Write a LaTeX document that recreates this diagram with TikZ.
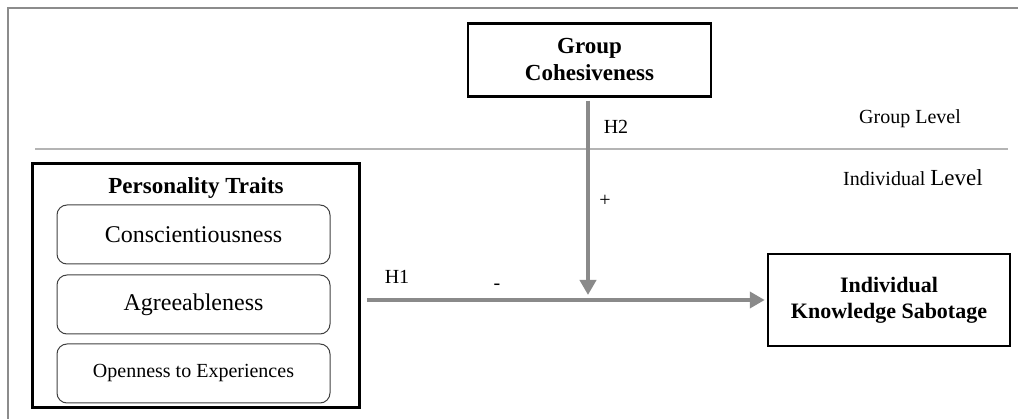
\documentclass[tikz,border=0pt]{standalone}
\usepackage{fontspec}
\setmainfont{Liberation Serif}
\usetikzlibrary{arrows.meta,positioning}

\definecolor{framegray}{HTML}{8C8C8C}
\definecolor{linegray}{HTML}{B4B4B4}
\definecolor{arrowgray}{HTML}{8A8A8A}

\tikzset{
  construct/.style={draw, line width=2.5pt, inner sep=0pt, align=center,
    font=\fontsize{23}{27}\selectfont\bfseries},
  traitbox/.style={draw=black!75, line width=1pt, rounded corners=10pt,
    minimum width=273pt, minimum height=59pt, inner sep=0pt},
  hyparrow/.style={draw=arrowgray, line width=4pt,
    -{Triangle[length=15pt,width=16pt]}},
  plainlabel/.style={inner sep=0pt, font=\fontsize{20}{24}\selectfont}
}

\begin{document}
\begin{tikzpicture}[x=1pt, y=-1pt]
  \useasboundingbox (0,0) rectangle (1018,419);

  % Outer frame and level divider
  \draw[framegray, line width=2pt] (8,419) -- (8,8) -- (1018,8);
  \draw[linegray, line width=1.5pt] (35,149) -- (1008,149);

  % Level labels
  \node[plainlabel] (grouplevel) at (910,119) {Group Level};
  \node[plainlabel] (indlevel) at (913,178) {Individual {\fontsize{23}{27}\selectfont Level}};

  % Constructs
  \node[construct, minimum width=243pt, minimum height=73pt] (cohesion) at (589.5,60) {Group\\Cohesiveness};
  \node[construct, minimum width=242pt, minimum height=92pt,
    font=\fontsize{22}{26}\selectfont\bfseries] (sabotage) at (889,300) {Individual\\Knowledge Sabotage};

  % Personality traits block
  \node[draw, line width=3pt, minimum width=327pt, minimum height=244pt, inner sep=0pt] (traits) at (195.5,286) {};
  \node[inner sep=0pt, font=\fontsize{23}{27}\selectfont\bfseries] (traitstitle) at (196,188) {Personality Traits};
  \node[traitbox, font=\fontsize{24}{28}\selectfont] (consc) at (193.5,234.5) {Conscientiousness};
  \node[traitbox, below=10pt of consc, font=\fontsize{24}{28}\selectfont] (agree) {Agreeableness};
  \node[traitbox, below=9pt of agree, font=\fontsize{20}{24}\selectfont] (openness) {Openness to Experiences};

  % Hypothesised paths
  \coordinate (h1start) at (367,300);
  \coordinate (moderate) at (588,300);
  \draw[hyparrow, shorten >=2pt] (h1start) -- (sabotage.west);
  \draw[hyparrow, shorten <=3pt, shorten >=5pt] (cohesion.south -| moderate) -- (moderate);

  % Path labels
  \node[plainlabel] (h1) at (397,277) {H1};
  \node[plainlabel] (minus) at (497,287) {-};
  \node[plainlabel] (h2) at (616,127) {H2};
  \node[plainlabel] (plus) at (605,201) {+};
\end{tikzpicture}
\end{document}
